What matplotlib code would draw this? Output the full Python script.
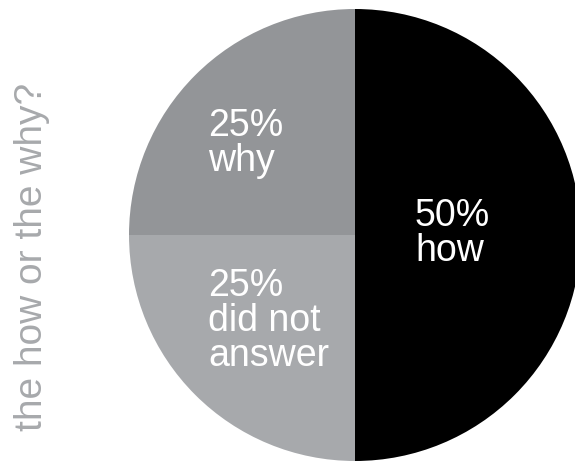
import matplotlib.pyplot as plt

# slice data (counter-clockwise from the top)
labels = ['why', 'did not\nanswer', 'how']
shares = [25, 25, 50]
colors = ['#939598', '#a7a9ac', '#000000']
title = 'the how or the why?'

# figure in pixel units
W, H = 575, 462
fig = plt.figure(figsize=(W / 100, H / 100), dpi=100)
ax = fig.add_axes([0, 0, 1, 1])

cx, cy, r = 355, H - 235, 226
ax.pie(shares, colors=colors, startangle=90, counterclock=True,
       center=(cx, cy), radius=r, frame=True,
       wedgeprops=dict(linewidth=0))
ax.set_xlim(0, W)
ax.set_ylim(0, H)
ax.set_aspect('equal')
ax.axis('off')

font = dict(family='Liberation Sans', color='white', fontsize=27)
# label anchors (top-left of each label block)
label_pos = [(208, 108), (208, 268), (415, 198)]
for lab, s, (x, y) in zip(labels, shares, label_pos):
    ax.text(x, H - y, f'{s}%\n{lab}', ha='left', va='top',
            linespacing=0.97, **font)

ax.text(32, H - 257, title, rotation=90, ha='center', va='center',
        family='Liberation Sans', color='#a7a9ac', fontsize=28)

fig.savefig('out.png', dpi=100)
